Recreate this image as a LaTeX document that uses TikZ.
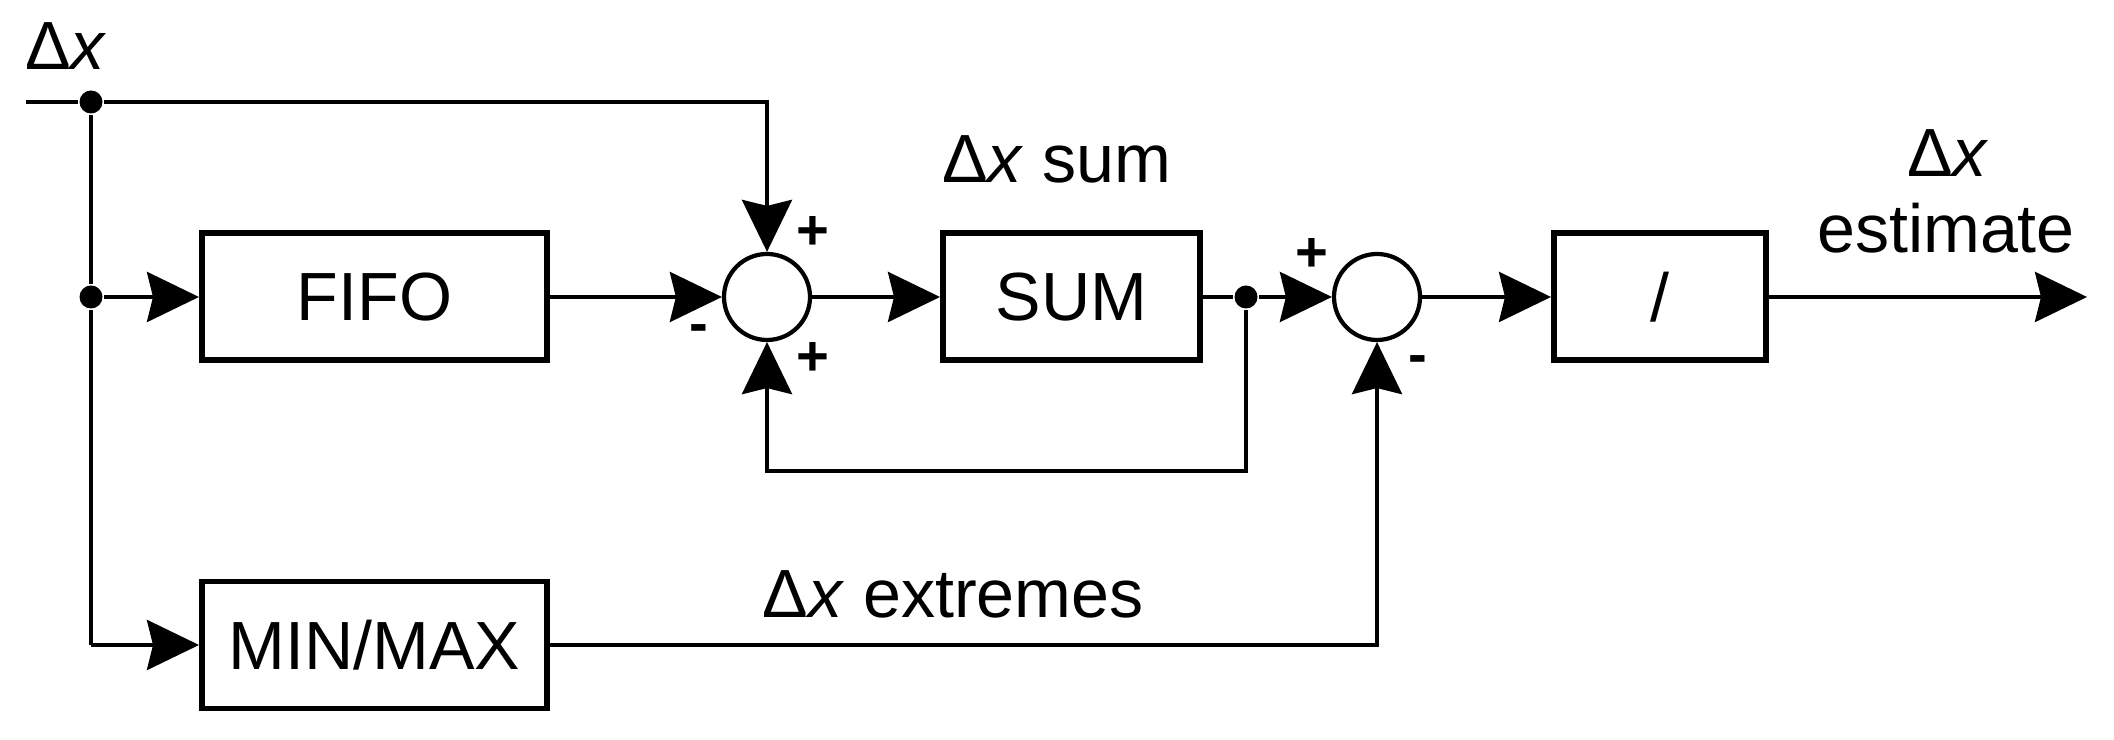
\documentclass[tikz,border=0pt]{standalone}
\usepackage{fontspec}
\setmainfont{Liberation Sans}
\usetikzlibrary{arrows.meta,calc}

\newcommand{\deltax}{Δ\textit{x}}

\begin{document}
\begin{tikzpicture}[
  >={Stealth[length=5.2mm,width=5mm,inset=0.6mm]}, line width=1.1pt,
  every node/.style={font=\fontsize{19.4}{23}\selectfont},
  box/.style={draw, line width=1.7pt, minimum height=1.27cm, inner sep=0pt},
  adder/.style={draw, circle, line width=1.2pt, minimum size=0.86cm, inner sep=0pt},
  dot/.style={circle, fill, inner sep=0pt, minimum size=2.3mm},
  sign/.style={font=\fontsize{16}{20}\selectfont\bfseries, inner sep=0pt},
]
\useasboundingbox (0,0) rectangle (21.14,7.40);

% input and branch points
\coordinate (in) at (0.26,6.38);
\node[dot] (jtop) at (0.91,6.38) {};
\node[dot] (jfifo) at (0.91,4.43) {};
\coordinate (jmin) at (0.91,0.95);

% blocks
\node[box, minimum width=3.45cm] (fifo) at (3.745,4.43) {FIFO};
\node[box, minimum width=3.45cm] (minmax) at (3.745,0.95) {MIN/MAX};
\node[adder] (addA) at (7.67,4.43) {};
\node[box, minimum width=2.57cm] (sum) at (10.715,4.43) {SUM};
\node[dot] (tap) at (12.46,4.43) {};
\node[adder] (addB) at (13.77,4.43) {};
\node[box, minimum width=2.12cm] (divide) at (16.60,4.43) {/};
\coordinate (out) at (20.87,4.43);
\coordinate (fb) at (12.46,2.69);

% labels
\node[anchor=base] (lin) at (0.66,6.70) {\deltax};
\node[anchor=base] (lsum) at (10.57,5.57) {\deltax{} sum};
\node[anchor=base] (lout) at (19.48,5.63) {\deltax};
\node[anchor=base] (lest) at (19.46,4.87) {estimate};
\node[anchor=base] (lext) at (9.53,1.22) {\deltax{} extremes};

% signs at the adders
\node[sign] (sAtop) at (8.13,5.07) {+};
\node[sign] (sAleft) at (6.99,4.06) {-};
\node[sign] (sAbot) at (8.13,3.81) {+};
\node[sign] (sBleft) at (13.12,4.85) {+};
\node[sign] (sBbot) at (14.18,3.75) {-};

% connectors
\draw[->] (in) -- (jtop) -| (addA.north);
\draw (jtop) -- (jfifo) -- (jmin);
\draw[->] (jfifo) -- (fifo);
\draw[->] (jmin) -- (minmax);
\draw[->] (fifo) -- (addA);
\draw[->] (addA) -- (sum);
\draw[->] (sum) -- (tap) -- (addB);
\draw[->] (tap) -- (fb) -| (addA.south);
\draw[->] (minmax) -| (addB.south);
\draw[->] (addB) -- (divide);
\draw[->] (divide) -- (out);
\end{tikzpicture}
\end{document}
